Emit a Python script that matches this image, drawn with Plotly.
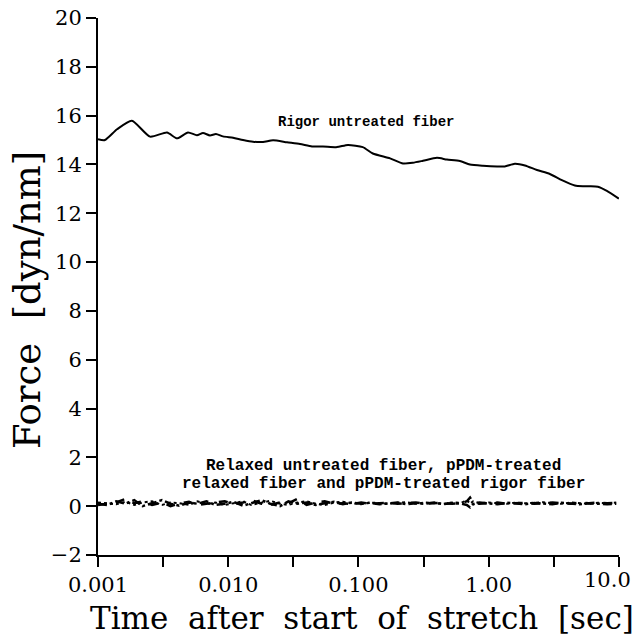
import plotly.graph_objects as go

# Rigor untreated fiber
rigor_t = [0.00100, 0.00113, 0.00140, 0.00182, 0.00251, 0.00339, 0.00404, 0.00491, 0.00575, 0.00640,
           0.00724, 0.00805, 0.00912, 0.0109, 0.0130, 0.0155, 0.0185, 0.0221, 0.0283, 0.0356,
           0.0440, 0.0534, 0.0684, 0.0830, 0.108, 0.129, 0.175, 0.220, 0.262, 0.313,
           0.401, 0.478, 0.601, 0.718, 0.903, 1.16, 1.33, 1.59, 1.90, 2.35,
           2.95, 3.65, 4.59, 5.29, 5.99, 6.90, 8.09, 10.0]
rigor_f = [15.03, 15.00, 15.44, 15.79, 15.14, 15.31, 15.07, 15.31, 15.20, 15.29,
           15.19, 15.25, 15.15, 15.09, 15.00, 14.93, 14.92, 14.99, 14.91, 14.84,
           14.74, 14.74, 14.71, 14.80, 14.71, 14.45, 14.25, 14.04, 14.07, 14.15,
           14.27, 14.20, 14.14, 14.00, 13.95, 13.92, 13.92, 14.03, 13.96, 13.77,
           13.61, 13.36, 13.14, 13.11, 13.11, 13.09, 12.92, 12.60]

# Low-force traces
noise_t = [0.00100, 0.00118, 0.00138, 0.00162, 0.00190, 0.00220, 0.00260, 0.00310, 0.00360, 0.00420,
           0.00500, 0.00580, 0.00680, 0.00800, 0.00940, 0.0110, 0.0130, 0.0150, 0.0180, 0.0210,
           0.0250, 0.0290, 0.0340, 0.0400, 0.0470, 0.0550, 0.0650, 0.0760, 0.0890, 0.105,
           0.123, 0.145, 0.170, 0.200, 0.235, 0.276, 0.324, 0.381, 0.447, 0.525,
           0.617, 0.680, 0.720, 0.760, 0.850, 1.00, 1.17, 1.38, 1.62, 1.90,
           2.24, 2.63, 3.09, 3.63, 4.27, 5.01, 5.89, 6.92, 8.13, 9.55]
relaxed_f = [0.05, 0.10, 0.15, 0.30, 0.12, 0.20, 0.05, 0.15, 0.00, 0.10,
             0.18, 0.05, 0.10, 0.12, 0.20, 0.08, 0.15, 0.25, 0.10, 0.05,
             0.15, 0.12, 0.30, 0.05, 0.15, 0.20, 0.10, 0.12, 0.08, 0.15,
             0.10, 0.12, 0.14, 0.10, 0.12, 0.15, 0.10, 0.12, 0.14, 0.10,
             0.12, 0.20, 0.35, 0.15, 0.10, 0.12, 0.15, 0.10, 0.12, 0.14,
             0.10, 0.12, 0.15, 0.12, 0.10, 0.14, 0.12, 0.15, 0.12, 0.14]
ppdm_relaxed_f = [0.10, 0.05, 0.20, 0.10, 0.25, 0.00, 0.12, 0.25, 0.10, 0.02,
                  0.15, 0.10, 0.20, 0.05, 0.10, 0.18, 0.02, 0.12, 0.25, 0.10,
                  0.00, 0.20, 0.10, 0.15, 0.05, 0.12, 0.18, 0.08, 0.15, 0.10,
                  0.14, 0.08, 0.12, 0.15, 0.08, 0.12, 0.10, 0.15, 0.08, 0.12,
                  0.10, 0.05, -0.05, 0.08, 0.15, 0.10, 0.08, 0.14, 0.10, 0.08,
                  0.13, 0.10, 0.08, 0.14, 0.10, 0.08, 0.12, 0.10, 0.08, 0.10]
ppdm_rigor_f = [0.15, 0.12, 0.08, 0.18, 0.05, 0.15, 0.20, 0.05, 0.15, 0.12,
                0.05, 0.20, 0.08, 0.15, 0.05, 0.12, 0.20, 0.05, 0.15, 0.22,
                0.10, 0.05, 0.15, 0.20, 0.10, 0.05, 0.15, 0.18, 0.12, 0.08,
                0.15, 0.12, 0.10, 0.14, 0.16, 0.10, 0.15, 0.12, 0.10, 0.15,
                0.14, 0.25, 0.10, 0.20, 0.12, 0.15, 0.12, 0.10, 0.15, 0.12,
                0.14, 0.16, 0.12, 0.10, 0.15, 0.13, 0.10, 0.14, 0.12, 0.15]

x_tickvals = [0.001, 0.00316, 0.01, 0.0316, 0.1, 0.316, 1, 3.16, 10]
x_ticktext = ["0.001", "", "0.010", "", "0.100", "", "1.00", "", ""]
last_x_tick_label = "10.0"   # drawn right-aligned at the axis end so it stays inside the page
y_tickvals = [-2, 0, 2, 4, 6, 8, 10, 12, 14, 16, 18, 20]

x_title = "Time after start of stretch [sec]"
y_title = "Force [dyn/nm]"
rigor_label = "Rigor untreated fiber"
relaxed_label_1 = "Relaxed untreated fiber, pPDM-treated"
relaxed_label_2 = "relaxed fiber and pPDM-treated rigor fiber"

fig = go.Figure()
fig.add_trace(go.Scatter(x=rigor_t, y=rigor_f, mode="lines",
                         line=dict(color="black", width=2, shape="spline", smoothing=0.6)))
fig.add_trace(go.Scatter(x=noise_t, y=relaxed_f, mode="lines", line=dict(color="black", width=2.5, dash="dash")))
fig.add_trace(go.Scatter(x=noise_t, y=ppdm_relaxed_f, mode="lines", line=dict(color="black", width=2.5, dash="dashdot")))
fig.add_trace(go.Scatter(x=noise_t, y=ppdm_rigor_f, mode="lines", line=dict(color="black", width=2, dash="dot")))

serif = "DejaVu Serif"
mono = "Liberation Mono"
wide = lambda s: s.replace(" ", " \u00a0")

fig.update_layout(
    width=639, height=637,
    margin=dict(l=98, r=20, t=18, b=82, autoexpand=False),
    paper_bgcolor="white", plot_bgcolor="white",
    showlegend=False,
    font=dict(family=serif, color="black"),
    xaxis=dict(type="log", range=[-3, 1.001], tickvals=x_tickvals, ticktext=x_ticktext,
               showline=True, linecolor="black", linewidth=2, showgrid=False, zeroline=False,
               ticks="outside", ticklen=10, tickwidth=2, tickcolor="black",
               automargin=False,
               tickfont=dict(family=serif, size=21)),
    yaxis=dict(range=[-2, 20], tickvals=y_tickvals,
               showline=True, linecolor="black", linewidth=2, showgrid=False, zeroline=False,
               ticks="outside", ticklen=10, tickwidth=2, tickcolor="black",
               automargin=False,
               tickfont=dict(family=serif, size=21)),
    annotations=[
        dict(x=1, y=-0.047, xref="paper", yref="paper", text=last_x_tick_label, showarrow=False,
             font=dict(family=serif, size=21), xanchor="right", yanchor="middle", xshift=14),
        dict(x=0.507, y=-0.117, xref="paper", yref="paper", text=wide(x_title), showarrow=False,
             font=dict(family=serif, size=31), xanchor="center", yanchor="middle"),
        dict(x=-0.134, y=0.475, xref="paper", yref="paper", text=wide(y_title), showarrow=False,
             textangle=-90, font=dict(family=serif, size=37), xanchor="center", yanchor="middle"),
        dict(x=-0.942, y=15.75, xref="x", yref="y", text="<b>" + rigor_label + "</b>", showarrow=False,
             font=dict(family=mono, size=14)),
        dict(x=-0.804, y=1.66, xref="x", yref="y", text="<b>" + relaxed_label_1 + "</b>",
             showarrow=False, font=dict(family=mono, size=16)),
        dict(x=-0.804, y=0.90, xref="x", yref="y", text="<b>" + relaxed_label_2 + "</b>",
             showarrow=False, font=dict(family=mono, size=16)),
    ],
)

fig.write_html("out.html")
